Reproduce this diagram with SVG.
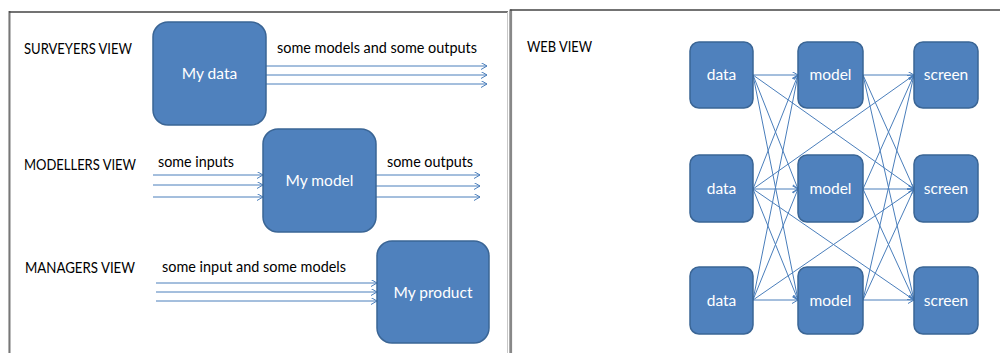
<svg xmlns="http://www.w3.org/2000/svg" width="1000" height="353" viewBox="0 0 1000 353">
<defs>
<style>
.box{fill:#4F81BD;stroke:#3A6595;stroke-width:1.5}
.nt{fill:#fff;font-family:Lato,"Liberation Sans",Arial,sans-serif;font-size:15.5px;text-anchor:middle}
.lb{fill:#000;font-family:Lato,"Liberation Sans",Arial,sans-serif;font-size:15px}
.cap{font-size:16px}
.c{stroke:#4A7EBB;stroke-width:1;fill:none;marker-end:url(#ah)}
</style>
<marker id="ah" markerWidth="8" markerHeight="8" refX="6" refY="3.5" orient="auto" markerUnits="userSpaceOnUse">
<path d="M0,0 L6,3.5 L0,7" fill="none" stroke="#4A7EBB" stroke-width="1"/>
</marker>
</defs>
<rect width="1000" height="353" fill="#fff"/>
<g id="frames">
<line x1="8.5" y1="11" x2="8.5" y2="353" stroke="#b0b0b0" stroke-width="1"/>
<line x1="9.8" y1="11" x2="9.8" y2="353" stroke="#555" stroke-width="1.2"/>
<line x1="9" y1="12" x2="508" y2="12" stroke="#444" stroke-width="1.5"/>
<line x1="507.5" y1="12" x2="507.5" y2="353" stroke="#c8c8c8" stroke-width="1"/>
<line x1="510.7" y1="9.5" x2="510.7" y2="353" stroke="#888" stroke-width="2.8"/>
<line x1="510" y1="10" x2="1000" y2="10" stroke="#444" stroke-width="1.5"/>
</g>
<g id="labels">
<text class="lb cap" x="24" y="54" textLength="108" lengthAdjust="spacingAndGlyphs">SURVEYERS VIEW</text>
<text class="lb cap" x="24" y="170" textLength="112" lengthAdjust="spacingAndGlyphs">MODELLERS VIEW</text>
<text class="lb cap" x="25" y="273" textLength="110" lengthAdjust="spacingAndGlyphs">MANAGERS VIEW</text>
<text class="lb cap" x="527" y="52" textLength="65" lengthAdjust="spacingAndGlyphs">WEB VIEW</text>
<text class="lb" x="277" y="53" textLength="200" lengthAdjust="spacingAndGlyphs">some models and some outputs</text>
<text class="lb" x="158" y="167" textLength="76" lengthAdjust="spacingAndGlyphs">some inputs</text>
<text class="lb" x="387" y="167" textLength="86" lengthAdjust="spacingAndGlyphs">some outputs</text>
<text class="lb" x="162" y="272" textLength="184" lengthAdjust="spacingAndGlyphs">some input and some models</text>
</g>
<g id="connectors">
<line class="c" x1="266" y1="66" x2="487" y2="66"/>
<line class="c" x1="266" y1="75" x2="487" y2="75"/>
<line class="c" x1="266" y1="84" x2="487" y2="84"/>
<line class="c" x1="153" y1="175" x2="263" y2="175"/>
<line class="c" x1="153" y1="185" x2="263" y2="185"/>
<line class="c" x1="153" y1="197" x2="263" y2="197"/>
<line class="c" x1="376" y1="175" x2="480" y2="175"/>
<line class="c" x1="376" y1="186" x2="480" y2="186"/>
<line class="c" x1="376" y1="197" x2="480" y2="197"/>
<line class="c" x1="156" y1="283" x2="377" y2="283"/>
<line class="c" x1="156" y1="292" x2="377" y2="292"/>
<line class="c" x1="156" y1="301" x2="377" y2="301"/>
<line class="c" x1="753" y1="75" x2="798" y2="75"/>
<line class="c" x1="753" y1="75" x2="798" y2="189"/>
<line class="c" x1="753" y1="75" x2="798" y2="300"/>
<line class="c" x1="753" y1="189" x2="798" y2="75"/>
<line class="c" x1="753" y1="189" x2="798" y2="189"/>
<line class="c" x1="753" y1="189" x2="798" y2="300"/>
<line class="c" x1="753" y1="300" x2="798" y2="75"/>
<line class="c" x1="753" y1="300" x2="798" y2="189"/>
<line class="c" x1="753" y1="300" x2="798" y2="300"/>
<line class="c" x1="863" y1="75" x2="914" y2="75"/>
<line class="c" x1="863" y1="75" x2="914" y2="189"/>
<line class="c" x1="863" y1="75" x2="914" y2="300"/>
<line class="c" x1="863" y1="189" x2="914" y2="75"/>
<line class="c" x1="863" y1="189" x2="914" y2="189"/>
<line class="c" x1="863" y1="189" x2="914" y2="300"/>
<line class="c" x1="863" y1="300" x2="914" y2="75"/>
<line class="c" x1="863" y1="300" x2="914" y2="189"/>
<line class="c" x1="863" y1="300" x2="914" y2="300"/>
<line class="c" x1="753" y1="75" x2="914" y2="189"/>
<line class="c" x1="753" y1="189" x2="914" y2="75"/>
<line class="c" x1="753" y1="189" x2="914" y2="300"/>
<line class="c" x1="753" y1="300" x2="914" y2="189"/>
</g>
<g id="my-data"><rect class="box" x="153" y="22" width="113" height="103" rx="15"/><text class="nt" x="209.5" y="79">My data</text></g>
<g id="my-model"><rect class="box" x="263" y="129" width="113" height="103" rx="15"/><text class="nt" x="319.5" y="186">My model</text></g>
<g id="my-product"><rect class="box" x="377" y="241" width="112" height="102" rx="15"/><text class="nt" x="433" y="298">My product</text></g>
<g id="data1"><rect class="box" x="690" y="42" width="63" height="66" rx="9"/><text class="nt" x="721.5" y="80">data</text></g>
<g id="data2"><rect class="box" x="690" y="155" width="63" height="67" rx="9"/><text class="nt" x="721.5" y="194">data</text></g>
<g id="data3"><rect class="box" x="690" y="267" width="63" height="67" rx="9"/><text class="nt" x="721.5" y="306">data</text></g>
<g id="model1"><rect class="box" x="798" y="42" width="65" height="66" rx="9"/><text class="nt" x="830.5" y="80">model</text></g>
<g id="model2"><rect class="box" x="798" y="155" width="65" height="67" rx="9"/><text class="nt" x="830.5" y="194">model</text></g>
<g id="model3"><rect class="box" x="798" y="267" width="65" height="67" rx="9"/><text class="nt" x="830.5" y="306">model</text></g>
<g id="screen1"><rect class="box" x="914" y="42" width="64" height="66" rx="9"/><text class="nt" x="946" y="80">screen</text></g>
<g id="screen2"><rect class="box" x="914" y="155" width="64" height="67" rx="9"/><text class="nt" x="946" y="194">screen</text></g>
<g id="screen3"><rect class="box" x="914" y="267" width="64" height="67" rx="9"/><text class="nt" x="946" y="306">screen</text></g>
</svg>
